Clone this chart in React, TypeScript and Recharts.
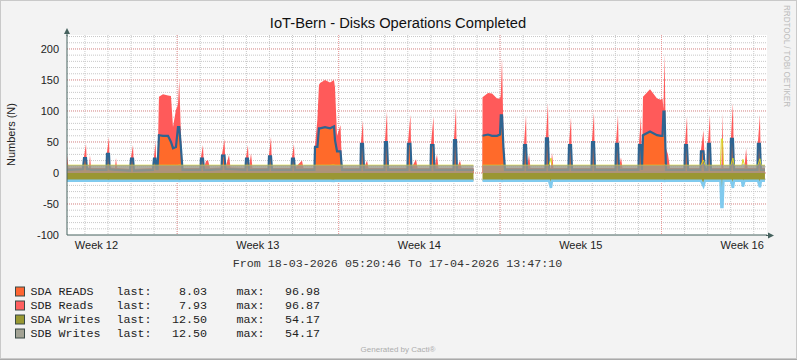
import { Area, CartesianGrid, ComposedChart, XAxis, YAxis } from "recharts";

// hours since 18-03-2026 05:20:46, one entry per sample row
const hours = [
  0, 1.6,
  16.6, 17.7, 19.8, 20.8, 22.9, 23.9, 25.0,
  41.1, 41.6, 43.7, 44.4, 49.9, 51.0, 52.0,
  65.6, 66.6, 68.7, 69.7,
  89.5, 90.5, 92.1, 93.1, 94.2, 95.7, 99.9, 105.1, 108.2, 110.3, 113.4, 115.5, 116.8, 118.6, 120.2,
  138.9, 139.4, 141.5, 142.6, 144.6, 146.7, 148.8,
  160.8, 161.3, 163.9, 164.9, 168.6, 170.1,
  185.7, 186.3, 188.3, 189.4, 191.5, 193.0,
  209.7, 210.2, 212.3, 213.3,
  233.6, 234.1, 236.2, 237.2, 244.5, 246.1,
  257.5, 258.1, 260.6, 262.2, 263.3, 268.5, 273.7, 277.8, 278.9, 281.0, 284.6, 286.2,
  305.4, 305.9, 308.0, 309.1, 312.2, 313.8,
  330.4, 330.9, 333.0, 334.1,
  354.3, 354.8, 357.4, 358.5, 363.2, 364.7,
  378.3, 378.8, 381.4, 382.4, 385.0, 386.6,
  402.2, 402.7, 404.8, 405.8, 409.0, 410.5, 423.0,
  423.5, 431.8,
  432.4, 438.1, 442.3, 447.5, 450.6, 451.4, 452.7, 454.2, 455.8,
  475.0, 475.6, 477.7, 478.7, 480.8, 482.3,
  497.9, 498.4, 500.5, 501.6, 503.6, 504.7, 506.2,
  521.8, 522.4, 524.5, 525.5,
  545.8, 546.3, 548.4, 549.4,
  570.8, 571.3, 573.4, 574.4, 576.5, 578.1,
  594.7, 595.2, 597.3, 598.3,
  599.4, 606.7, 614.0, 618.1, 619.7, 620.7, 621.8, 623.3, 625.4, 627.5,
  642.6, 643.1, 645.2, 646.3,
  659.2, 659.7, 662.3, 663.9,
  666.5, 667.0, 669.1, 670.1,
  680.0, 681.0, 682.1, 683.1,
  690.4, 690.9, 693.0, 694.1,
  702.4, 703.4, 705.0, 706.7, 708.2,
  718.5, 719.0, 721.1, 722.1, 726.3,
];

const sdaReads = [
  5, 5,
  6, 24, 24, 6, 6, 6, 5,
  5, 31, 31, 6, 5, 5, 5,
  4, 23, 23, 4,
  5, 23, 23, 6, 6, 61, 60, 60, 50, 40, 42, 74, 74, 40, 5,
  5, 23, 23, 5, 5, 5, 5,
  6, 28, 28, 6, 6, 6,
  5, 23, 23, 5, 5, 5,
  5, 27, 27, 5,
  5, 23, 23, 5, 5, 5,
  5, 42, 42, 72, 72, 74, 72, 75, 53, 35, 35, 5,
  5, 47, 47, 5, 5, 5,
  5, 50, 50, 5,
  5, 47, 47, 5, 5, 5,
  5, 45, 45, 5, 5, 5,
  5, 53, 53, 5, 5, 5, 5,
  null, null,
  60, 62, 60, 60, 62, 93, 93, 40, 5,
  5, 45, 45, 5, 5, 5,
  5, 56, 56, 5, 5, 5, 5,
  5, 45, 45, 5,
  5, 50, 50, 5,
  5, 47, 47, 5, 5, 5,
  5, 45, 45, 5,
  61, 67, 61, 60, 60, 99, 99, 5, 5, 5,
  5, 45, 45, 5,
  5, 35, 35, 5,
  5, 47, 47, 5,
  5, 5, 5, 5,
  5, 55, 55, 5,
  5, 5, 5, 5, 5,
  5, 47, 47, 5, 5,
];

const sdbReads = [
  24, 3,
  3, 2, 23, 3, 3, 23, 3,
  3, 2, 27, 3, 3, 19, 3,
  3, 2, 22, 3,
  3, 2, 27, 3, 3, 62, 67, 65, 74, 34, 60, 36, 76, 20, 3,
  3, 2, 22, 3, 14, 16, 3,
  3, 2, 27, 3, 23, 3,
  3, 2, 22, 3, 27, 3,
  3, 2, 31, 3,
  3, 2, 24, 3, 15, 3,
  3, 2, 45, 70, 73, 76, 74, 75, 85, 25, 42, 3,
  3, 2, 38, 3, 15, 3,
  3, 2, 49, 3,
  3, 2, 47, 3, 17, 3,
  3, 2, 46, 3, 25, 3,
  3, 2, 52, 3, 15, 3, 3,
  null, null,
  62, 67, 68, 60, 58, 32, 92, 20, 3,
  3, 2, 49, 3, 25, 3,
  3, 2, 57, 3, 3, 28, 3,
  3, 2, 45, 3,
  3, 2, 48, 3,
  3, 2, 47, 3, 20, 3,
  3, 2, 46, 3,
  62, 68, 59, 58, 60, 4, 94, 35, 25, 3,
  3, 2, 46, 3,
  3, 2, 34, 3,
  3, 2, 47, 3,
  3, 3, 92, 3,
  3, 2, 58, 3,
  3, 3, 3, 35, 3,
  3, 2, 47, 3, 3,
];

const sdaWrites = [
  12.5, 12.5,
  12.5, 12.5, 12.5, 12.5, 12.5, 12.5, 12.5,
  12.5, 12.5, 13, 12.5, 12.5, 12.5, 12.5,
  12.5, 12.5, 12.5, 12.5,
  12.5, 12.5, 12.5, 12.5, 12.5, 12.5, 12.5, 12.5, 12.5, 12.5, 12.5, 12.5, 13, 12.5, 12.5,
  12.5, 12.5, 12.5, 12.5, 12.5, 12.5, 12.5,
  12.5, 12.5, 12.5, 12.5, 12.5, 12.5,
  12.5, 12.5, 12.5, 12.5, 12.5, 12.5,
  12.5, 12.5, 12.5, 12.5,
  12.5, 12.5, 12.5, 12.5, 12.5, 12.5,
  12.5, 12.5, 12.5, 12.5, 12.5, 12.5, 12.5, 13, 12.5, 12.5, 12.5, 12.5,
  12.5, 12.5, 12.5, 12.5, 12.5, 12.5,
  12.5, 12.5, 12.5, 12.5,
  12.5, 12.5, 12.5, 12.5, 12.5, 12.5,
  12.5, 12.5, 12.5, 12.5, 12.5, 12.5,
  12.5, 12.5, 12.5, 12.5, 12.5, 12.5, 12.5,
  null, null,
  12.5, 12.5, 12.5, 12.5, 12.5, 12.5, 13, 12.5, 12.5,
  12.5, 12.5, 12.5, 12.5, 12.5, 12.5,
  12.5, 12.5, 12.5, 12.5, 24, 12.5, 12.5,
  12.5, 12.5, 12.5, 12.5,
  12.5, 12.5, 12.5, 12.5,
  12.5, 12.5, 12.5, 12.5, 12.5, 12.5,
  12.5, 12.5, 12.5, 12.5,
  12.5, 12.5, 12.5, 12.5, 12.5, 12.5, 13, 12.5, 12.5, 12.5,
  12.5, 12.5, 12.5, 12.5,
  12.5, 12.5, 21, 12.5,
  12.5, 12.5, 12.5, 12.5,
  12.5, 55, 55, 12.5,
  12.5, 12.5, 24, 12.5,
  12.5, 22, 12.5, 12.5, 12.5,
  12.5, 12.5, 23, 12.5, 12.5,
];

const sdbWrites = [
  12.5, 12.5,
  12.5, 12.5, 12.5, 12.5, 12.5, 12.5, 12.5,
  12.5, 12.5, 12.5, 12.5, 12.5, 12.5, 12.5,
  12.5, 12.5, 12.5, 12.5,
  12.5, 12.5, 12.5, 12.5, 12.5, 12.5, 12.5, 12.5, 12.5, 12.5, 12.5, 12.5, 12.5, 12.5, 12.5,
  12.5, 12.5, 12.5, 12.5, 12.5, 12.5, 12.5,
  12.5, 12.5, 12.5, 12.5, 12.5, 12.5,
  12.5, 12.5, 12.5, 12.5, 12.5, 12.5,
  12.5, 12.5, 12.5, 12.5,
  12.5, 12.5, 12.5, 12.5, 12.5, 12.5,
  12.5, 12.5, 12.5, 12.5, 12.5, 12.5, 12.5, 12.5, 12.5, 12.5, 12.5, 12.5,
  12.5, 12.5, 12.5, 12.5, 12.5, 12.5,
  12.5, 12.5, 12.5, 12.5,
  12.5, 12.5, 12.5, 12.5, 12.5, 12.5,
  12.5, 12.5, 12.5, 12.5, 12.5, 12.5,
  12.5, 12.5, 12.5, 12.5, 12.5, 12.5, 12.5,
  null, null,
  12.5, 12.5, 12.5, 12.5, 12.5, 12.5, 12.5, 12.5, 12.5,
  12.5, 12.5, 12.5, 12.5, 12.5, 12.5,
  12.5, 12.5, 12.5, 12.5, 12.5, 12.5, 12.5,
  12.5, 12.5, 12.5, 12.5,
  12.5, 12.5, 12.5, 12.5,
  12.5, 12.5, 12.5, 12.5, 12.5, 12.5,
  12.5, 12.5, 12.5, 12.5,
  12.5, 12.5, 12.5, 12.5, 12.5, 12.5, 12.5, 12.5, 12.5, 12.5,
  12.5, 12.5, 12.5, 12.5,
  12.5, 12.5, 16, 12.5,
  12.5, 12.5, 12.5, 12.5,
  12.5, 14, 13, 12.5,
  12.5, 12.5, 18, 12.5,
  12.5, 15, 12.5, 14, 12.5,
  12.5, 12.5, 17, 12.5, 12.5,
];

const weekTicks = [30.65, 198.65, 366.65, 534.65, 702.65];
const weekLabels = ["Week 12", "Week 13", "Week 14", "Week 15", "Week 16"];
const yTicks = [-100, -50, 0, 50, 100, 150, 200];

const legendNames = ["SDA READS", "SDB Reads", "SDA Writes", "SDB Writes"];
const legendColors = ["#FF6633", "#FF5F5F", "#999933", "#A3A395"];
const legendLast = ["8.03", "7.93", "12.50", "12.50"];
const legendMax = ["96.98", "96.87", "54.17", "54.17"];

const SPAN = 728.44;
const dayLines = Array.from({ length: 31 }, (_, i) => 18.654 + 24 * i).filter((h) => h < SPAN);
const mondayLines = [114.654, 282.654, 450.654, 618.654];
const minorY = Array.from({ length: 32 }, (_, i) => -90 + 10 * i);
const majorY = [-50, 0, 50, 100, 150, 200];

const rows = hours.map((hour, i) => ({
  hour,
  sdaReads: sdaReads[i],
  sdbReads: sdbReads[i],
  sdaWrites: sdaWrites[i],
  sdbWrites: sdbWrites[i],
}));

const SANS = '"Liberation Sans", Arial, sans-serif';
const MONO = '"Liberation Mono", "Courier New", monospace';
const AXIS = "#46625E";

type Row = (typeof rows)[number];

const readsTotal = (r: Row) =>
  r.sdaReads == null || r.sdbReads == null ? null : r.sdaReads + r.sdbReads;
const writesDown = (r: Row) => (r.sdaWrites == null ? null : -r.sdaWrites);

export default function App() {
  const tickStyle = { fontSize: 11, fill: "#222", fontFamily: SANS };
  return (
    <div
      style={{
        position: "absolute",
        left: 0,
        top: 0,
        width: 797,
        height: 360,
        background: "#F3F3F3",
        overflow: "hidden",
      }}
    >
      <ComposedChart
        width={797}
        height={360}
        data={rows}
        margin={{ top: 35, right: 30, bottom: 100, left: 7 }}
      >
        <CartesianGrid
          horizontalValues={minorY}
          verticalValues={dayLines}
          stroke="#C8C8C8"
          strokeDasharray="1 1"
          fill="#FFFFFF"
          fillOpacity={1}
        />
        <CartesianGrid
          horizontalValues={majorY}
          verticalValues={mondayLines}
          stroke="#EE9B9B"
          strokeDasharray="1 1"
        />
        <XAxis
          type="number"
          dataKey="hour"
          domain={[0, SPAN]}
          ticks={weekTicks}
          interval={0}
          allowDataOverflow
          tickFormatter={(_v: number, i: number) => weekLabels[i]}
          tick={tickStyle}
          tickLine={false}
          tickMargin={0}
          height={25}
          axisLine={{ stroke: AXIS }}
        />
        <YAxis
          type="number"
          domain={[-100, 222.5]}
          ticks={yTicks}
          interval={0}
          allowDataOverflow
          width={60}
          tick={tickStyle}
          tickLine={false}
          axisLine={{ stroke: AXIS }}
        />
        <Area
          type="linear"
          dataKey={readsTotal}
          name="SDB Reads"
          fill="#FF5A5A"
          fillOpacity={1}
          stroke="none"
          isAnimationActive={false}
          dot={false}
          activeDot={false}
        />
        <Area
          type="linear"
          dataKey="sdaReads"
          name="SDA READS"
          fill="#FF6A2A"
          fillOpacity={1}
          stroke="none"
          isAnimationActive={false}
          dot={false}
          activeDot={false}
        />
        <Area
          type="linear"
          dataKey="sdaReads"
          name="SDA READS line"
          fill="none"
          stroke="#2E6491"
          strokeWidth={2.2}
          isAnimationActive={false}
          dot={false}
          activeDot={false}
        />
        <Area
          type="linear"
          dataKey="sdaWrites"
          name="SDA Writes line"
          fill="none"
          stroke="#D9D928"
          strokeWidth={1}
          isAnimationActive={false}
          dot={false}
          activeDot={false}
        />
        <Area
          type="linear"
          dataKey="sdbWrites"
          name="SDB Writes"
          fill="#9C9C8C"
          fillOpacity={0.82}
          stroke="none"
          isAnimationActive={false}
          dot={false}
          activeDot={false}
        />
        <Area
          type="linear"
          dataKey={writesDown}
          name="SDA Writes"
          fill="#9A9633"
          fillOpacity={1}
          stroke="#80CAEE"
          strokeWidth={2.5}
          isAnimationActive={false}
          dot={false}
          activeDot={false}
        />
      </ComposedChart>

      <svg
        width={797}
        height={360}
        style={{ position: "absolute", left: 0, top: 0, pointerEvents: "none" }}
      >
        <rect x={0.5} y={0.5} width={796} height={358} fill="none" stroke="#C9C9C9" />
        <line x1={0} y1={359.5} x2={797} y2={359.5} stroke="#A9A9A9" />
        <text x={398} y={28} textAnchor="middle" fontFamily={SANS} fontSize={14.7} fill="#111">
          IoT-Bern - Disks Operations Completed
        </text>
        <text
          transform="translate(15,134.5) rotate(-90)"
          textAnchor="middle"
          fontFamily={SANS}
          fontSize={11}
          fill="#222"
        >
          Numbers (N)
        </text>
        <line x1={67} y1={32} x2={67} y2={36} stroke={AXIS} />
        <polygon points="67,28 64,34 70,34" fill={AXIS} />
        <line x1={766} y1={235.5} x2={770} y2={235.5} stroke={AXIS} />
        <polygon points="774,235.5 768,232.5 768,238.5" fill={AXIS} />
        <text x={397.5} y={266.6} textAnchor="middle" fontFamily={MONO} fontSize={11.7} fill="#333">
          From 18-03-2026 05:20:46 To 17-04-2026 13:47:10
        </text>
        {legendNames.map((name, i) => {
          const y = 294.5 + 14 * i;
          return (
            <g key={name} fontFamily={MONO} fontSize={11.7} fill="#222">
              <rect
                x={15.5}
                y={y - 7.5}
                width={9}
                height={9}
                fill={legendColors[i]}
                stroke="#3A4A46"
              />
              <text x={30.5} y={y}>{name}</text>
              <text x={116.5} y={y}>last:</text>
              <text x={207} y={y} textAnchor="end">{legendLast[i]}</text>
              <text x={236.5} y={y}>max:</text>
              <text x={320} y={y} textAnchor="end">{legendMax[i]}</text>
            </g>
          );
        })}
        <text x={398} y={352} textAnchor="middle" fontFamily={SANS} fontSize={8} fill="#ADADAD">
          Generated by Cacti®
        </text>
        <text
          transform="translate(784,5) rotate(90)"
          fontFamily={SANS}
          fontSize={9}
          fill="#BDBDBD"
          textLength={102}
          lengthAdjust="spacingAndGlyphs"
        >
          RRDTOOL / TOBI OETIKER
        </text>
      </svg>
    </div>
  );
}
